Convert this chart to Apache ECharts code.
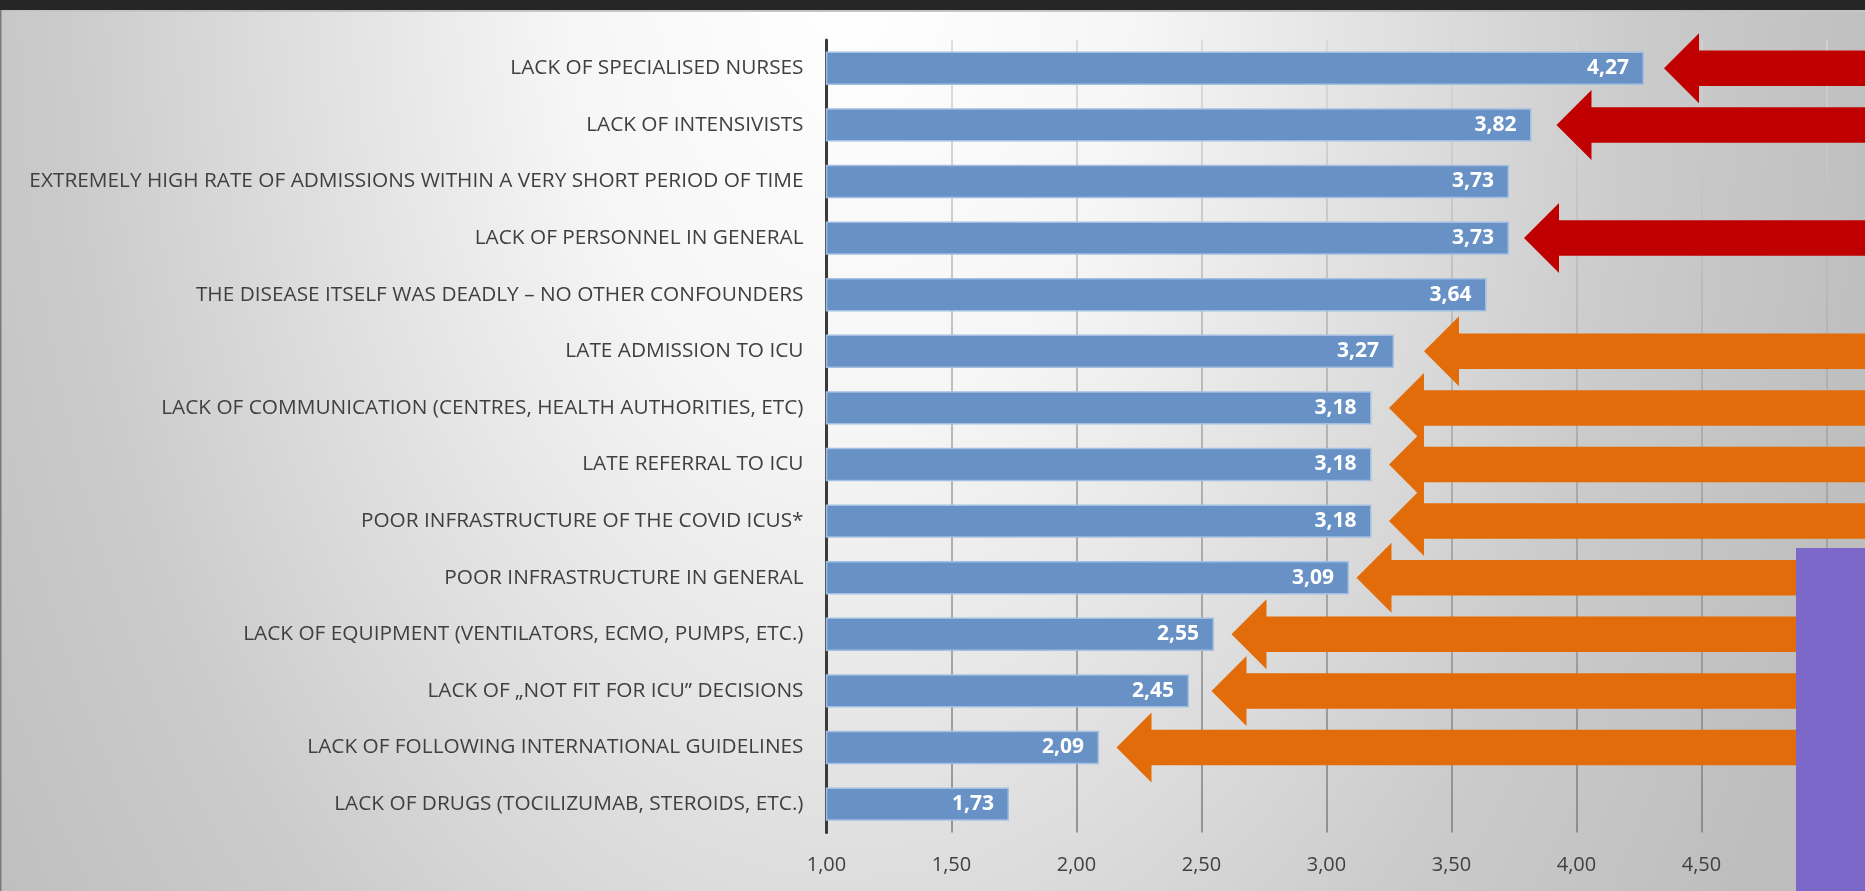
<!DOCTYPE html>
<html>
<head>
<meta charset="utf-8">
<script src="https://cdn.jsdelivr.net/npm/echarts@6.0.0/dist/echarts.min.js"></script>
<style>
html,body{margin:0;padding:0;overflow:hidden;}
#chart{width:1865px;height:891px;}
</style>
</head>
<body>
<div id="chart"></div>
<script>
// ---- data ----
const categories = [
  "LACK OF SPECIALISED NURSES",
  "LACK OF INTENSIVISTS",
  "EXTREMELY HIGH RATE OF ADMISSIONS WITHIN A VERY SHORT PERIOD OF TIME",
  "LACK OF PERSONNEL IN GENERAL",
  "THE DISEASE ITSELF WAS DEADLY \u2013 NO OTHER CONFOUNDERS",
  "LATE ADMISSION TO ICU",
  "LACK OF COMMUNICATION (CENTRES, HEALTH AUTHORITIES, ETC)",
  "LATE REFERRAL TO ICU",
  "POOR INFRASTRUCTURE OF THE COVID ICUS*",
  "POOR INFRASTRUCTURE IN GENERAL",
  "LACK OF EQUIPMENT (VENTILATORS, ECMO, PUMPS, ETC.)",
  "LACK OF \u201eNOT FIT FOR ICU\u201d DECISIONS",
  "LACK OF FOLLOWING INTERNATIONAL GUIDELINES",
  "LACK OF DRUGS (TOCILIZUMAB, STEROIDS, ETC.)"
];
const scores = [4.27, 3.82, 3.73, 3.73, 3.64, 3.27, 3.18, 3.18, 3.18, 3.09, 2.55, 2.45, 2.09, 1.73];
// arrow annotations: [tip value on x axis, category index]
const redArrows = [[4.35, 0], [3.92, 1], [3.79, 3]];
const orangeArrows = [[3.39, 5], [3.25, 6], [3.25, 7], [3.25, 8], [3.12, 9], [2.62, 10], [2.54, 11], [2.16, 12]];
const xTicks = {min: 1, max: 5.5, interval: 0.5};

// ---- chart ----
const W = 1865, H = 891;
const chart = echarts.init(document.getElementById('chart'), null, {renderer: 'canvas'});
const fmt = v => Number(v).toFixed(2).replace('.', ',');
const FONT = '"Open Sans", "Noto Sans", sans-serif';

function arrowRenderer(color) {
  return function (params, api) {
    const p = api.coord([api.value(0), api.value(1)]);
    const x = p[0], y = p[1];
    const shaft = 35.5, head = 70, depth = 35, right = api.getWidth();
    return {
      type: 'polygon',
      shape: {points: [
        [x, y], [x + depth, y - head / 2], [x + depth, y - shaft / 2], [right, y - shaft / 2],
        [right, y + shaft / 2], [x + depth, y + shaft / 2], [x + depth, y + head / 2]
      ]},
      style: {fill: color}
    };
  };
}

const sy = 1.6;
const option = {
  animation: false,
  backgroundColor: '#e6e6e6',
  graphic: [
    {type: 'rect', z: -100, silent: true, scaleY: sy,
     shape: {x: 0, y: 0, width: W, height: H / sy},
     style: {fill: {type: 'radial', x: 850 / W, y: -20 / (H / sy), r: 1050 / (H / sy), global: false,
       colorStops: [
         {offset: 0, color: '#ffffff'},
         {offset: 0.27, color: '#f6f6f6'},
         {offset: 0.45, color: '#e6e6e6'},
         {offset: 0.75, color: '#cbcbcb'},
         {offset: 1, color: '#bebebe'}
       ]}}},
    {type: 'rect', z: 100, silent: true, shape: {x: 0, y: 0, width: W, height: 10}, style: {fill: '#262626'}},
    {type: 'rect', z: 100, silent: true, shape: {x: 0, y: 10, width: W, height: 2}, style: {fill: '#c4c4c4'}},
    {type: 'rect', z: 100, silent: true, shape: {x: 0, y: 10, width: 1.5, height: H}, style: {fill: '#7a7a7a'}},
    {type: 'rect', z: 100, silent: true, shape: {x: 1796, y: 548, width: W - 1796, height: H - 548}, style: {fill: '#7c68c8'}}
  ],
  grid: {left: 826.5, top: 40, bottom: 58.6, right: -(826.5 + 4.5 * 250 - W),
         containLabel: false, outerBoundsMode: 'none'},
  xAxis: {
    type: 'value', min: xTicks.min, max: xTicks.max, interval: xTicks.interval,
    axisLine: {show: false}, axisTick: {show: false},
    axisLabel: {formatter: fmt, color: '#404040', fontFamily: FONT, fontSize: 20, margin: 23},
    splitLine: {show: true, lineStyle: {width: 1.5,
      color: new echarts.graphic.LinearGradient(0, 40, 0, 832, [
        {offset: 0, color: '#d6d6d6'}, {offset: 0.5, color: '#a4a4a4'}, {offset: 1, color: '#7c7c7c'}
      ], true)}}
  },
  yAxis: {
    type: 'category', data: categories, inverse: true,
    axisLine: {show: true, lineStyle: {color: '#3a3a3a', width: 3}},
    axisTick: {show: false},
    axisLabel: {color: '#404040', fontFamily: FONT, fontSize: 20.8, margin: 23},
    splitLine: {show: false}
  },
  series: [
    {
      type: 'bar', data: scores, barWidth: '59%',
      itemStyle: {color: '#6892c6', borderColor: '#a2bfe2', borderWidth: 1.5},
      label: {show: true, position: 'insideRight', distance: 15, formatter: p => fmt(p.value),
        color: '#ffffff', fontFamily: FONT, fontWeight: 'bold', fontSize: 21}
    },
    {type: 'custom', data: redArrows, renderItem: arrowRenderer('#c00000'), encode: {x: 0, y: 1}, clip: false, silent: true},
    {type: 'custom', data: orangeArrows, renderItem: arrowRenderer('#e36c0a'), encode: {x: 0, y: 1}, clip: false, silent: true}
  ]
};
chart.setOption(option);
</script>
</body>
</html>
